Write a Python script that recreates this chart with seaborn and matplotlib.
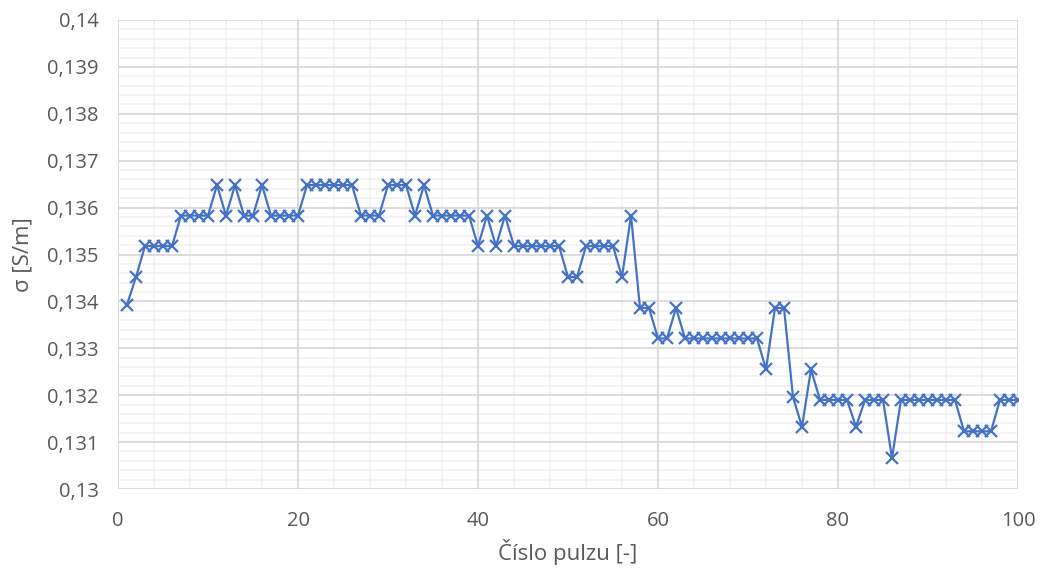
import matplotlib
matplotlib.use("Agg")
import matplotlib.pyplot as plt
import matplotlib.ticker as mticker
import seaborn as sns
import pandas as pd

pulse = list(range(1, 101))
sigma = [
    0.13393, 0.13452, 0.13518, 0.13518, 0.13518, 0.13518, 0.13583, 0.13583, 0.13583, 0.13583,
    0.13648, 0.13583, 0.13648, 0.13583, 0.13583, 0.13648, 0.13583, 0.13583, 0.13583, 0.13583,
    0.13648, 0.13648, 0.13648, 0.13648, 0.13648, 0.13648, 0.13583, 0.13583, 0.13583, 0.13648,
    0.13648, 0.13648, 0.13583, 0.13648, 0.13583, 0.13583, 0.13583, 0.13583, 0.13583, 0.13518,
    0.13583, 0.13518, 0.13583, 0.13518, 0.13518, 0.13518, 0.13518, 0.13518, 0.13518, 0.13452,
    0.13452, 0.13518, 0.13518, 0.13518, 0.13518, 0.13452, 0.13583, 0.13386, 0.13386, 0.13321,
    0.13321, 0.13386, 0.13321, 0.13321, 0.13321, 0.13321, 0.13321, 0.13321, 0.13321, 0.13321,
    0.13321, 0.13255, 0.13386, 0.13386, 0.13196, 0.13133, 0.13255, 0.13190, 0.13190, 0.13190,
    0.13190, 0.13133, 0.13190, 0.13190, 0.13190, 0.13066, 0.13190, 0.13190, 0.13190, 0.13190,
    0.13190, 0.13190, 0.13190, 0.13123, 0.13123, 0.13123, 0.13123, 0.13190, 0.13190, 0.13190,
]
x_label = "Číslo pulzu [-]"
y_label = "σ [S/m]"

df = pd.DataFrame({"x": pulse, "y": sigma})

sns.set_theme(style="white")
plt.rcParams["font.family"] = ["Open Sans", "DejaVu Sans"]

fig = plt.figure(figsize=(10.44, 5.71), dpi=100)
ax = fig.add_axes([118 / 1044, 1 - 489 / 571, 900 / 1044, 469 / 571])

blue = "#4472C4"
sns.lineplot(data=df, x="x", y="y", ax=ax, color=blue, linewidth=1.6,
             marker="x", markersize=8, markeredgewidth=1.6, markeredgecolor=blue,
             zorder=3)

ax.set_xlim(0, 100)
ax.set_ylim(0.13, 0.14)
ax.xaxis.set_major_locator(mticker.MultipleLocator(20))
ax.xaxis.set_minor_locator(mticker.MultipleLocator(4))
ax.yaxis.set_major_locator(mticker.MultipleLocator(0.001))
ax.yaxis.set_minor_locator(mticker.MultipleLocator(0.0002))

def yfmt(v, pos):
    s = f"{v:.3f}".rstrip("0")
    return s.replace(".", ",")

ax.yaxis.set_major_formatter(mticker.FuncFormatter(yfmt))
ax.xaxis.set_major_formatter(mticker.FuncFormatter(lambda v, p: f"{int(round(v))}"))

# minor grid via axis, major grid drawn above it
ax.grid(which="minor", color="#F0F0F0", linewidth=1.1)
ax.grid(which="major", visible=False)
ax.set_axisbelow(True)
grid_major = "#D9D9D9"
for xv in ax.get_xticks():
    if 0 <= xv <= 100:
        ax.axvline(xv, color=grid_major, linewidth=1.3, zorder=1)
for yv in ax.get_yticks():
    if 0.13 - 1e-9 <= yv <= 0.14 + 1e-9:
        ax.axhline(yv, color=grid_major, linewidth=1.3, zorder=1)

for s in ["top", "right", "bottom", "left"]:
    ax.spines[s].set_visible(False)

ax.tick_params(axis="both", which="both", length=0, labelsize=14.5, colors="#595959")
ax.tick_params(axis="y", pad=14)
ax.tick_params(axis="x", pad=16)
ax.set_xlabel(x_label, fontsize=16, color="#595959")
ax.set_ylabel(y_label, fontsize=16, color="#595959")
ax.xaxis.set_label_coords(0.5, -0.107)
ax.yaxis.set_label_coords(-0.094, 0.5)

fig.savefig("out.png", dpi=100)
